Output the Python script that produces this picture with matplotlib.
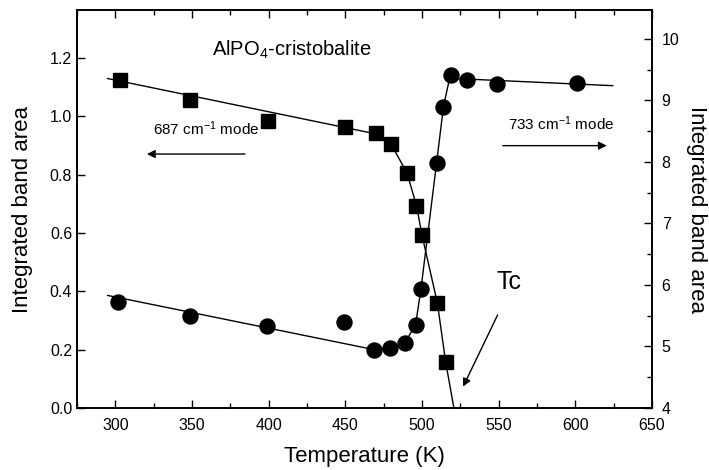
import numpy as np
import matplotlib.pyplot as plt

plt.rcParams['font.family'] = ['Liberation Sans', 'DejaVu Sans']
plt.rcParams['mathtext.fontset'] = 'custom'
plt.rcParams['mathtext.rm'] = 'Liberation Sans'
plt.rcParams['mathtext.it'] = 'Liberation Sans:italic'

# 687 cm-1 mode (left axis), squares
T_687 = [303, 349, 399.5, 449.7, 470, 480, 490.3, 496.4, 500, 510, 515.4]
area_687 = [1.125, 1.056, 0.984, 0.963, 0.942, 0.904, 0.805, 0.694, 0.593, 0.361, 0.159]
# guide line through the 687 data
T_687_line = [295, 470, 480, 490.3, 496.4, 500, 510, 515.4, 520.8]
area_687_line = [1.13, 0.94, 0.904, 0.805, 0.694, 0.593, 0.361, 0.159, 0.0]

# 733 cm-1 mode (right axis), circles
T_733 = [301.9, 349, 399, 449, 468.6, 479, 488.8, 495.8, 499.3, 509.5, 514, 519, 529.4, 549, 601.4]
area_733 = [5.73, 5.50, 5.33, 5.40, 4.95, 4.98, 5.06, 5.35, 5.93, 7.98, 8.90, 9.41, 9.34, 9.26, 9.29]
T_733_line = [295, 468.6, 479, 488.8, 495.8, 499.3, 509.5, 514, 518, 624.4]
area_733_line = [5.83, 4.95, 4.98, 5.06, 5.35, 5.93, 7.98, 8.90, 9.36, 9.24]

fig = plt.figure(figsize=(7.09, 4.70), dpi=100)
ax = fig.add_axes([0.1086, 0.1319, 0.811, 0.8468])
ax2 = ax.twinx()

ax.plot(T_687_line, area_687_line, color='black', lw=1)
ax.plot(T_687, area_687, 's', color='black', ms=9.5, ls='none')
ax2.plot(T_733_line, area_733_line, color='black', lw=1)
ax2.plot(T_733, area_733, 'o', color='black', ms=10.8, ls='none')

ax.set_xlim(275, 650)
ax.set_ylim(0, 1.365)
ax2.set_ylim(4, 10.47)

ax.set_xticks(np.arange(300, 651, 50))
ax.set_xticks(np.arange(275, 651, 25), minor=True)
ax.set_yticks(np.arange(0, 1.21, 0.2))
ax.set_yticklabels(['0.0', '0.2', '0.4', '0.6', '0.8', '1.0', '1.2'])
ax2.set_yticks(np.arange(4, 10.1, 1))
ax2.set_yticks(np.arange(4, 10.1, 0.5), minor=True)

ax.tick_params(axis='both', which='both', direction='in', top=True, labelsize=11.5)
ax.tick_params(which='major', length=6, width=1)
ax.tick_params(which='minor', length=3.5, width=1)
ax.tick_params(axis='x', which='major', pad=7.5)
ax2.tick_params(which='both', direction='in', labelsize=11.5, width=1, pad=7)
ax2.tick_params(which='major', length=6)
ax2.tick_params(which='minor', length=3.5)
for a in (ax, ax2):
    for s in a.spines.values():
        s.set_linewidth(1.2)

ax.set_xlabel('Temperature (K)', fontsize=16, labelpad=9)
ax.set_ylabel('Integrated band area', fontsize=16, labelpad=12)
ax2.set_ylabel('Integrated band area', fontsize=16, rotation=270, labelpad=20)

ax.text(415, 1.227, r'AlPO$_4$-cristobalite', fontsize=14.5, ha='center', va='center')
ax.text(359, 0.957, r'687 cm$^{-1}$ mode', fontsize=11, ha='center', va='center')
ax2.text(591, 8.62, r'733 cm$^{-1}$ mode', fontsize=11, ha='center', va='center')
ax.text(557, 0.432, 'Tc', fontsize=18, ha='center', va='center')

arrow = dict(arrowstyle='-|>', color='black', lw=1, mutation_scale=12, shrinkA=0, shrinkB=0)
ax.annotate('', xy=(320.6, 0.871), xytext=(384.5, 0.871), arrowprops=arrow)
ax2.annotate('', xy=(620.5, 8.265), xytext=(552.7, 8.265), arrowprops=arrow)
ax.annotate('', xy=(526.8, 0.073), xytext=(549.3, 0.319), arrowprops=arrow)

fig.savefig('out.png', dpi=100)
